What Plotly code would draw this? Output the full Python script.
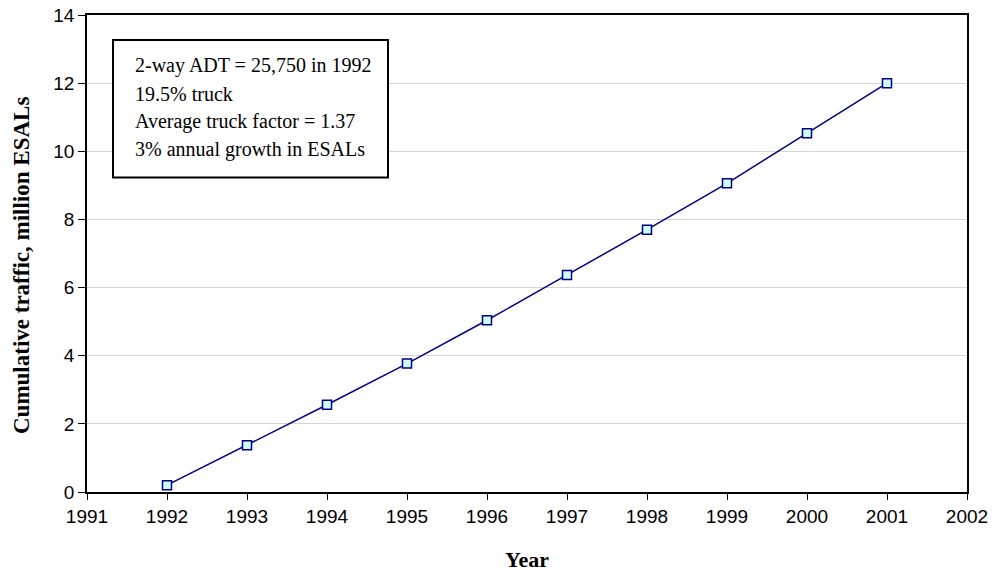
import plotly.graph_objects as go

years = [1992, 1993, 1994, 1995, 1996, 1997, 1998, 1999, 2000, 2001]
cum_esals = [0.2, 1.37, 2.56, 3.77, 5.04, 6.37, 7.70, 9.06, 10.53, 12.0]
x_ticks = list(range(1991, 2003))
y_ticks = list(range(0, 15, 2))
note_lines = [
    "2-way ADT = 25,750 in 1992",
    "19.5% truck",
    "Average truck factor = 1.37",
    "3% annual growth in ESALs",
]

W, H = 993, 579
# target pixel positions of the plot area in the window
PL, PR, PT, PB = 87, 967, 15, 492
L, R, T, B = PL, W - PR, PT, H - PB
plot_h = PB - PT
plot_w = PR - PL


def py(px):
    return (PB - px) / plot_h


def pxx(px):
    return (px - PL) / plot_w


fig = go.Figure()
fig.add_trace(go.Scatter(
    x=years, y=cum_esals, mode="lines+markers",
    line=dict(color="#000080", width=1.5),
    marker=dict(symbol="square", size=9, color="#CCFFFF",
                line=dict(color="#000080", width=1.5)),
    showlegend=False, cliponaxis=False,
))

fig.update_layout(
    width=W, height=H,
    margin=dict(l=L, r=R, t=T, b=B, autoexpand=False),
    paper_bgcolor="white", plot_bgcolor="white",
    font=dict(family="Liberation Sans, Arial", size=19, color="black"),
)
fig.update_xaxes(
    range=[1991, 2002], tickvals=x_ticks, ticktext=[str(v) for v in x_ticks],
    ticks="outside", ticklen=6, tickcolor="black", tickwidth=1,
    showline=True, linecolor="black", linewidth=1.5, mirror=True,
    showgrid=False, zeroline=False, automargin=False,
    ticklabeloverflow="allow",
)
fig.update_yaxes(
    range=[0, 14], tickvals=y_ticks, ticktext=[str(v) for v in y_ticks],
    ticks="outside", ticklen=7, tickcolor="black", tickwidth=1,
    showline=True, linecolor="black", linewidth=1.5, mirror=True,
    showgrid=True, gridcolor="#d4d4d4", gridwidth=1, zeroline=False,
    automargin=False, ticklabeloverflow="allow",
)

serif = "Liberation Serif, Times New Roman"
fig.add_annotation(text="<b>Year</b>", xref="paper", yref="paper",
                   x=pxx(527), y=py(559), xanchor="center", yanchor="middle",
                   showarrow=False, font=dict(family=serif, size=22))
fig.add_annotation(text="<b>Cumulative traffic, million ESALs</b>", xref="paper", yref="paper",
                   x=pxx(21), y=py(266), xanchor="center", yanchor="middle",
                   textangle=-90, showarrow=False, font=dict(family=serif, size=23))

# note box
fig.add_shape(type="rect", xref="paper", yref="paper",
              x0=pxx(113), x1=pxx(388), y0=py(177.5), y1=py(40),
              line=dict(color="black", width=2), fillcolor="white", layer="above")
centers = [66, 93.5, 121.5, 149]
for txt, cy in zip(note_lines, centers):
    fig.add_annotation(text=txt, xref="paper", yref="paper",
                       x=pxx(133), y=py(cy), xanchor="left", yanchor="middle",
                       showarrow=False,
                       font=dict(family=serif, size=20, color="black"))

fig.write_html("out.html", config={"displayModeBar": False},
               post_script="document.body.style.margin='0';")
